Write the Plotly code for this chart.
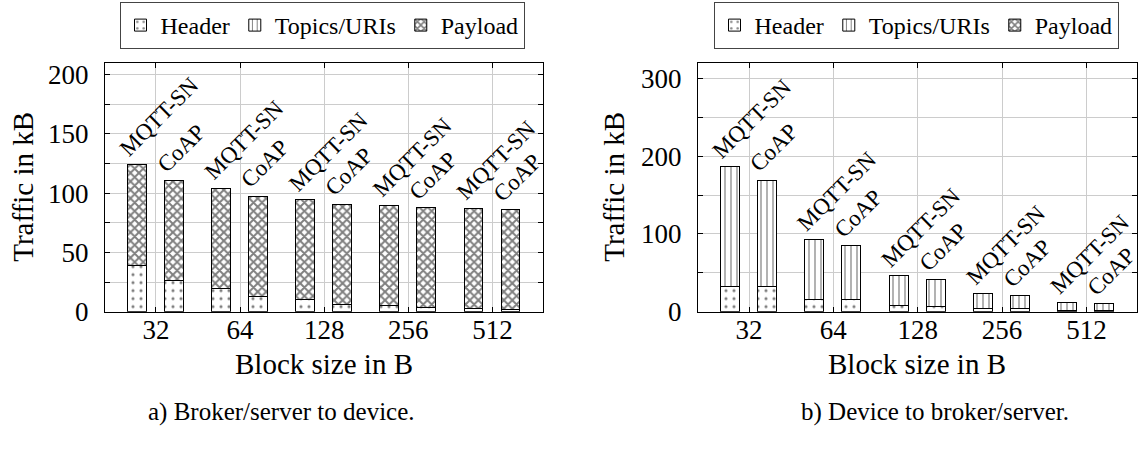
import plotly.graph_objects as go

# Block sizes (categories) and the two protocols drawn side by side per block
block_sizes = ["32", "64", "128", "256", "512"]
protocols = ["MQTT-SN", "CoAP"]

# a) Broker/server to device, traffic in kB
a_header_mqtt = [39, 19.7, 10.3, 4.9, 2.4]
a_header_coap = [26, 13, 6.5, 3.5, 1.9]
a_topics_mqtt = [0, 0, 0, 0, 0]
a_topics_coap = [0, 0, 0, 0, 0]
a_payload_mqtt = [85, 84.5, 83.9, 85, 84.8]
a_payload_coap = [84.5, 84.4, 84.2, 83.9, 84.2]

# b) Device to broker/server, traffic in kB
b_header_mqtt = [32, 16, 8, 3.5, 2]
b_header_coap = [32, 16, 7, 3.5, 2]
b_topics_mqtt = [154, 76.3, 38, 19.7, 9.6]
b_topics_coap = [136.8, 68.9, 34.4, 17.2, 8.4]
b_payload_mqtt = [0, 0, 0, 0, 0]
b_payload_coap = [0, 0, 0, 0, 0]

FONT = "Liberation Serif, Times New Roman, serif"
GRID = "#cccccc"
BAR_W = 0.225
OFFSET = 0.22

W, H = 1145, 450
# plot areas in pixels
LEFT_X = (105, 543)
RIGHT_X = (698, 1137)
PLOT_Y = (63, 322)


def positions():
    xs = []
    for i in range(len(block_sizes)):
        xs += [i - OFFSET, i + OFFSET]
    return xs


def interleave(a, b):
    out = []
    for u, v in zip(a, b):
        out += [u, v]
    return out


fig = go.Figure()

components = [
    ("Header", dict(shape=".", size=8, solidity=0.12)),
    ("Topics/URIs", dict(shape="|", size=6, solidity=0.2)),
    ("Payload", dict(shape="x", size=6, solidity=0.55)),
]

panels = [
    ("x", "y", "legend",
     [(a_header_mqtt, a_header_coap), (a_topics_mqtt, a_topics_coap), (a_payload_mqtt, a_payload_coap)]),
    ("x2", "y2", "legend2",
     [(b_header_mqtt, b_header_coap), (b_topics_mqtt, b_topics_coap), (b_payload_mqtt, b_payload_coap)]),
]

xs = positions()
for xa, ya, lg, series in panels:
    for (name, pat), (m, c) in zip(components, series):
        fig.add_trace(go.Bar(
            x=xs, y=interleave(m, c), name=name, width=BAR_W,
            xaxis=xa, yaxis=ya, legend=lg,
            marker=dict(color="white", line=dict(color="black", width=1),
                        pattern=dict(fgcolor="black", bgcolor="white", **pat)),
            hoverinfo="skip",
        ))

annotations = []
for xa, ya, lg, series in panels:
    totals_m = [sum(v) for v in zip(*[s[0] for s in series])]
    totals_c = [sum(v) for v in zip(*[s[1] for s in series])]
    tot = interleave(totals_m, totals_c)
    labels = protocols * len(block_sizes)
    for x, t, lab in zip(xs, tot, labels):
        annotations.append(dict(
            x=x, y=t, xref=xa, yref=ya, text=lab, showarrow=False,
            textangle=-45, xanchor="left", yanchor="bottom",
            xshift=-25, yshift=1,
            font=dict(family=FONT, size=23, color="black"),
        ))


def text_ann(text, x, y, size, angle=0):
    return dict(text=text, x=x / W, y=1 - y / H, xref="paper", yref="paper",
                showarrow=False, textangle=angle, xanchor="center", yanchor="middle",
                font=dict(family=FONT, size=size, color="black"))


annotations += [
    text_ann("Traffic in kB", 23, 192, 29, -90),
    text_ann("Traffic in kB", 614, 192, 29, -90),
    text_ann("Block size in B", 324, 376, 29),
    text_ann("Block size in B", 917, 376, 29),
    text_ann("a) Broker/server to device.", 281, 426, 25),
    text_ann("b) Device to broker/server.", 935, 426, 25),
]

common_x = dict(
    tickmode="array", tickvals=list(range(len(block_sizes))), ticktext=block_sizes,
    range=[-0.605, 4.6], showgrid=True, gridcolor=GRID, gridwidth=1,
    showline=True, linecolor="black", linewidth=1, mirror="ticks",
    ticks="inside", ticklen=5, tickcolor="black", ticklabelstandoff=-6,
    tickfont=dict(family=FONT, size=27, color="black"), zeroline=False,
)
common_y = dict(
    showgrid=True, gridcolor=GRID, gridwidth=1,
    showline=True, linecolor="black", linewidth=1, mirror="ticks",
    ticks="inside", ticklen=5, tickcolor="black", ticklabelstandoff=10,
    tickfont=dict(family=FONT, size=27, color="black"), zeroline=False,
)

dom_y = [1 - PLOT_Y[1] / H, 1 - PLOT_Y[0] / H]

legend_common = dict(
    orientation="h", y=1.0, xanchor="center", yanchor="top",
    bordercolor="#444", borderwidth=1, bgcolor="white",
    font=dict(family=FONT, size=24, color="black"),
    traceorder="normal", itemwidth=30,
)

fig.update_layout(
    width=W, height=H, margin=dict(l=0, r=0, t=0, b=0),
    paper_bgcolor="white", plot_bgcolor="white",
    barmode="stack", bargap=0,
    font=dict(family=FONT, color="black"),
    showlegend=True,
    xaxis=dict(domain=[LEFT_X[0] / W, LEFT_X[1] / W], anchor="y", **common_x),
    yaxis=dict(domain=dom_y, anchor="x", range=[0, 210], dtick=50,
               minor=dict(dtick=25, showgrid=True, gridcolor=GRID, ticks="inside",
                          ticklen=5, tickcolor="black"),
               **common_y),
    xaxis2=dict(domain=[RIGHT_X[0] / W, RIGHT_X[1] / W], anchor="y2", **common_x),
    yaxis2=dict(domain=dom_y, anchor="x2", range=[0, 320], dtick=100,
                minor=dict(dtick=50, showgrid=True, gridcolor=GRID, ticks="inside",
                           ticklen=5, tickcolor="black"),
                **common_y),
    legend=dict(x=322 / W, **legend_common),
    legend2=dict(x=916 / W, **legend_common),
    annotations=annotations,
)

fig.write_html("out.html")
